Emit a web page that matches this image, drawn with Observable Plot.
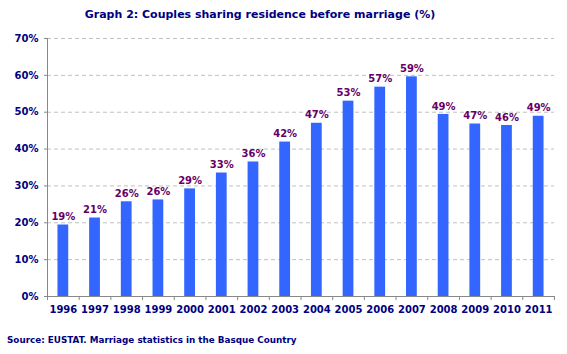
<!DOCTYPE html>
<html><head><meta charset="utf-8">
<script src="https://cdn.jsdelivr.net/npm/d3@7"></script>
<script src="https://cdn.jsdelivr.net/npm/@observablehq/plot@0.6"></script>
<style>
body{margin:0;background:#fff;font-family:"DejaVu Sans",Verdana,sans-serif;}
#title{height:29px;line-height:29px;text-align:center;font-weight:bold;font-size:11px;color:#000080;width:520px;}
#source{height:37px;line-height:37px;font-weight:bold;font-size:8.8px;color:#000080;padding-left:7px;}
</style></head>
<body>
<div id="title">Graph 2: Couples sharing residence before marriage (%)</div>
<div id="chart" style="height:293px"></div>
<div id="source">Source: EUSTAT. Marriage statistics in the Basque Country</div>
<script>
const years = ["1996","1997","1998","1999","2000","2001","2002","2003","2004","2005","2006","2007","2008","2009","2010","2011"];
const values = [19.4,21.3,25.7,26.2,29.2,33.5,36.5,41.9,47.0,53.0,56.8,59.6,49.4,46.8,46.4,48.9];
const labels = ["19%","21%","26%","26%","29%","33%","36%","42%","47%","53%","57%","59%","49%","47%","46%","49%"];
const yTicks = [0,10,20,30,40,50,60,70];

const data = years.map((y,i)=>({year:y, value:values[i], label:labels[i]}));
const W = 567, mL = 47, mR = 13, mT = 9, mB = 26;
const step = (W - mL - mR) / years.length;
const navy = "#000080";

const plot = Plot.plot({
  width: W, height: 293,
  marginLeft: mL, marginRight: mR, marginTop: mT, marginBottom: mB,
  style: {fontFamily: "'DejaVu Sans', Verdana, sans-serif", fontSize: "10px", fontWeight: "bold", color: navy, background: "#fff"},
  x: {domain: years, paddingInner: 0.66, paddingOuter: 0.33, round: false, label: null},
  y: {domain: [0, 70], label: null},
  marks: [
    Plot.ruleY(yTicks.filter(d=>d>0), {stroke: "#c0c0c0", strokeDasharray: "4,3", strokeWidth: 1}),
    Plot.barY(data, {x: "year", y: "value", fill: "#3366ff"}),
    Plot.text(data, {x: "year", y: "value", text: "label", dy: -8, fill: "#660066", fontWeight: "bold", fontSize: 10}),
    Plot.ruleY([0], {stroke: "#888"}),
    Plot.ruleX(years, {x: d=>d, dx: -step/2, y1: 0, y2: -1.1, stroke: "#888"}),
    Plot.ruleX([years[years.length-1]], {x: d=>d, dx: step/2, y1: 0, y2: -1.1, stroke: "#888"}),
    Plot.ruleX([years[0]], {x: d=>d, dx: -step/2, y1: 0, y2: 70, stroke: "#888"}),
    Plot.axisY({ticks: yTicks, tickFormat: d=>d+"%", tickSize: 3, tickPadding: 6, stroke: "#888", fill: navy, label: null, marginLeft: mL}),
    Plot.axisX({tickSize: 0, tickPadding: 9, fill: navy, label: null, marginBottom: mB})
  ]
});
document.getElementById("chart").appendChild(plot);
</script>
</body></html>
